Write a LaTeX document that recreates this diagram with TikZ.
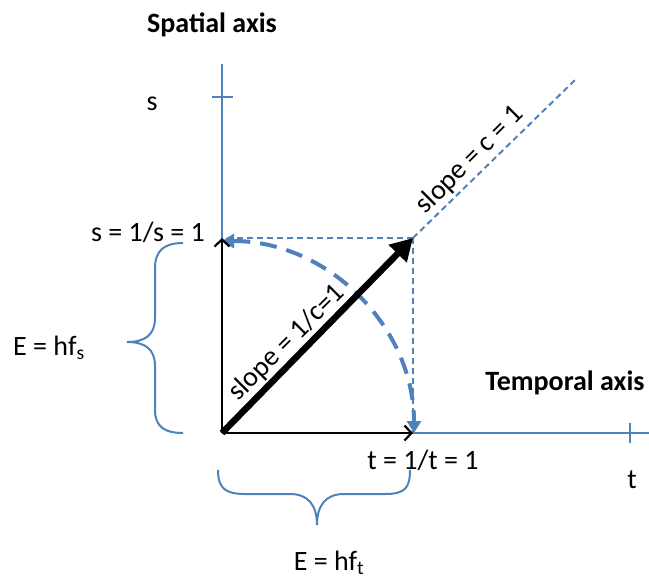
\documentclass[tikz,border=0pt]{standalone}
\usepackage{fontspec}
\setmainfont{Carlito}
\usetikzlibrary{arrows.meta}
\definecolor{axblue}{HTML}{4F81BD}
\begin{document}
\begin{tikzpicture}[x=1pt,y=-1pt,
  axis/.style={axblue,line width=1.5pt},
  tickmark/.style={axblue,line width=2pt},
  thinarrow/.style={black,line width=2.2pt,-{Straight Barb[length=7pt,width=15pt]}},
  thickarrow/.style={black,line width=6.5pt,-{Triangle[length=22pt,width=24pt]}},
  guide/.style={axblue,line width=2pt,dash pattern=on 6pt off 4pt},
  arcstyle/.style={axblue,line width=4pt,dash pattern=on 17pt off 10pt,{Triangle[length=12pt,width=14pt]}-{Triangle[length=12pt,width=14pt]}},
  bracestyle/.style={axblue,line width=2pt},
  lbl/.style={font=\fontsize{28}{32}\selectfont,inner sep=0pt},
  ttl/.style={font=\fontsize{28}{32}\selectfont\bfseries,inner sep=0pt}]
\useasboundingbox (0,0) rectangle (649,584);
% key points
\coordinate (O) at (222,433);
\coordinate (S1) at (222,238);
\coordinate (D) at (413,238);
\coordinate (T1) at (413,433);
\coordinate (Stop) at (222,64);
\coordinate (Tend) at (649,433);
\coordinate (Sl) at (575,80);
\coordinate (ArcA) at (222,241);
% axes
\draw[axis] (O) -- (Stop);
\draw[axis] (O) -- (Tend);
\draw[tickmark] (212,97) -- (233,97);
\draw[tickmark] (630,423) -- (630,443);
% guides
\draw[guide] (D) -- (S1);
\draw[guide] (D) -- (T1);
\draw[guide] (D) -- (Sl);
% arc
\draw[arcstyle] (ArcA) arc[start angle=-90,end angle=0,radius=192];
% arrows
\draw[thinarrow] (O) -- (S1);
\draw[thinarrow] (O) -- (T1);
\draw[thickarrow] (O) -- (D);
% braces
\draw[bracestyle] (183,243) .. controls (165,243) and (155,250) .. (155,268) -- (155,318)
  .. controls (155,335) and (145,342) .. (127,342)
  .. controls (145,342) and (155,349) .. (155,366) -- (155,410)
  .. controls (155,427) and (165,433) .. (183,433);
\draw[bracestyle] (218,470) .. controls (218,488) and (225,494) .. (245,494) -- (290,494)
  .. controls (308,494) and (317,505) .. (317,525)
  .. controls (317,505) and (326,494) .. (344,494) -- (385,494)
  .. controls (405,494) and (410,488) .. (410,470);
% labels
\node[ttl] (spatial) at (212,25) {Spatial axis};
\node[lbl] (slab) at (152,104) {s};
\node[lbl,anchor=east] (s1lab) at (205,232) {s = 1/s = 1};
\node[lbl] (es) at (49,348) {E = hf\textsubscript{s}};
\node[ttl] (temporal) at (565,383) {Temporal axis};
\node[lbl] (t1lab) at (423,460) {t = 1/t = 1};
\node[lbl] (tlab) at (632,480) {t};
\node[lbl] (et) at (329,563) {E = hf\textsubscript{t}};
\node[lbl,rotate=45] (slope1) at (287,343) {slope = 1/c=1};
\node[lbl,rotate=45] (slope2) at (470,160) {slope = c = 1};
\end{tikzpicture}
\end{document}
